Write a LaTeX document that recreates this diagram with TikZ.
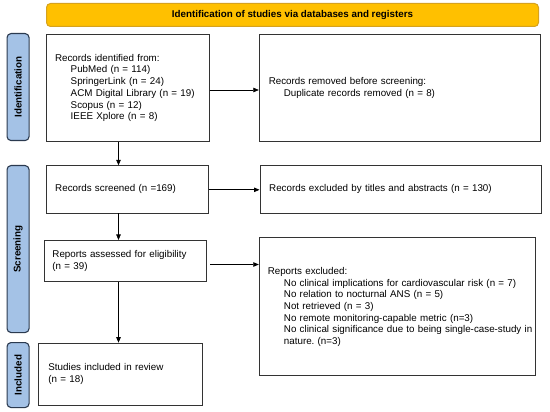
\documentclass[tikz,border=0pt]{standalone}
\usepackage{fontspec}
\setmainfont{Liberation Sans}
\usetikzlibrary{arrows.meta,calc}
\frenchspacing
\definecolor{bannerfill}{HTML}{FFC000}
\definecolor{bannerline}{HTML}{D6A21E}
\definecolor{sidefill}{HTML}{A4C2E6}
\definecolor{sideline}{HTML}{2B3A4F}
\definecolor{boxline}{HTML}{333333}
\tikzset{
  box/.style={draw=boxline, line width=0.9pt, anchor=north west, align=left,
    inner xsep=8.8pt, inner ysep=0pt, font=\fontsize{9.8}{11.7}\selectfont},
  side/.style={draw=sideline, fill=sidefill, line width=1.1pt, rounded corners=4pt,
    anchor=north west, minimum width=22pt, inner sep=0pt},
  sidetext/.style={rotate=90, font=\bfseries\fontsize{9.8}{11}\selectfont},
  arr/.style={-{Triangle[length=5.5pt,width=4.5pt]}, line width=0.75pt, draw=black}
}
\begin{document}
\begin{tikzpicture}[x=1pt,y=-1pt]
\useasboundingbox (0,0) rectangle (550,412);
\node[draw=bannerline, fill=bannerfill, line width=1pt, rounded corners=4pt, anchor=north west,
  minimum width=492pt, minimum height=23pt, inner sep=0pt,
  font=\bfseries\fontsize{9.8}{11}\selectfont] (banner) at (46,3)
  {Identification of studies via databases and registers};

\node[side, minimum height=107pt] (sid) at (6.5,33) {};
\node[sidetext] (sidt) at (sid.center) {Identification};
\node[side, minimum height=167pt] (sscr) at (6.5,165) {};
\node[sidetext] (sscrt) at (sscr.center) {Screening};
\node[side, minimum height=65pt] (sinc) at (6.5,342) {};
\node[sidetext] (sinct) at (sinc.center) {Included};

\node[box, minimum width=163pt, minimum height=107pt, text width=145pt] (ident) at (45.6,34)
  {Records identified from:\\
   \hspace*{15.7pt}PubMed (n = 114)\\
   \hspace*{15.7pt}SpringerLink (n = 24)\\
   \hspace*{15.7pt}ACM Digital Library (n = 19)\\
   \hspace*{15.7pt}Scopus (n = 12)\\
   \hspace*{15.7pt}IEEE Xplore (n = 8)};
\node[box, minimum width=281pt, minimum height=107pt, text width=262pt, inner xsep=9.5pt] (removed) at (258.8,34)
  {Records removed before screening:\\
   \hspace*{15.1pt}Duplicate records removed (n = 8)};
\node[box, minimum width=162.4pt, minimum height=47.3pt, text width=144pt] (screened) at (45.6,165.3)
  {Records screened (n =169)};
\node[box, minimum width=281.5pt, minimum height=47.3pt, text width=263pt] (titles) at (259.5,165.3)
  {Records excluded by titles and abstracts (n = 130)};
\node[box, minimum width=162.4pt, minimum height=41pt, text width=146pt, inner xsep=7.8pt] (assessed) at (43.8,240)
  {Reports assessed for eligibility\\(n = 39)};
\node[box, minimum width=276pt, minimum height=137.9pt, text width=259pt, inner xsep=8.4pt] (excluded) at (258.8,237.5)
  {Reports excluded:\\
   \hspace*{16.2pt}No clinical implications for cardiovascular risk (n = 7)\\
   \hspace*{16.2pt}No relation to nocturnal ANS (n = 5)\\
   \hspace*{16.2pt}Not retrieved (n = 3)\\
   \hspace*{16.2pt}No remote monitoring-capable metric (n=3)\\
   \hspace*{16.2pt}\mbox{No clinical significance due to being single-case-study in}\\
   \hspace*{16.2pt}nature. (n=3)};
\node[box, minimum width=163.4pt, minimum height=62.3pt, text width=144pt, inner xsep=9.4pt] (included) at (38.3,342.7)
  {Studies included in review\\(n = 18)};

\coordinate (col) at (118.5,0);
\coordinate (r1) at (0,90);
\coordinate (r2) at (0,189.8);
\coordinate (r3) at (0,264.5);
\draw[arr] (ident.south -| col) -- (screened.north -| col);
\draw[arr] (screened.south -| col) -- (assessed.north -| col);
\draw[arr] (assessed.south -| col) -- (included.north -| col);
\draw[arr] (ident.east |- r1) -- (removed.west |- r1);
\draw[arr] (screened.east |- r2) -- (titles.west |- r2);
\draw[arr, shorten <=3pt] (assessed.east |- r3) -- (excluded.west |- r3);
\end{tikzpicture}
\end{document}
